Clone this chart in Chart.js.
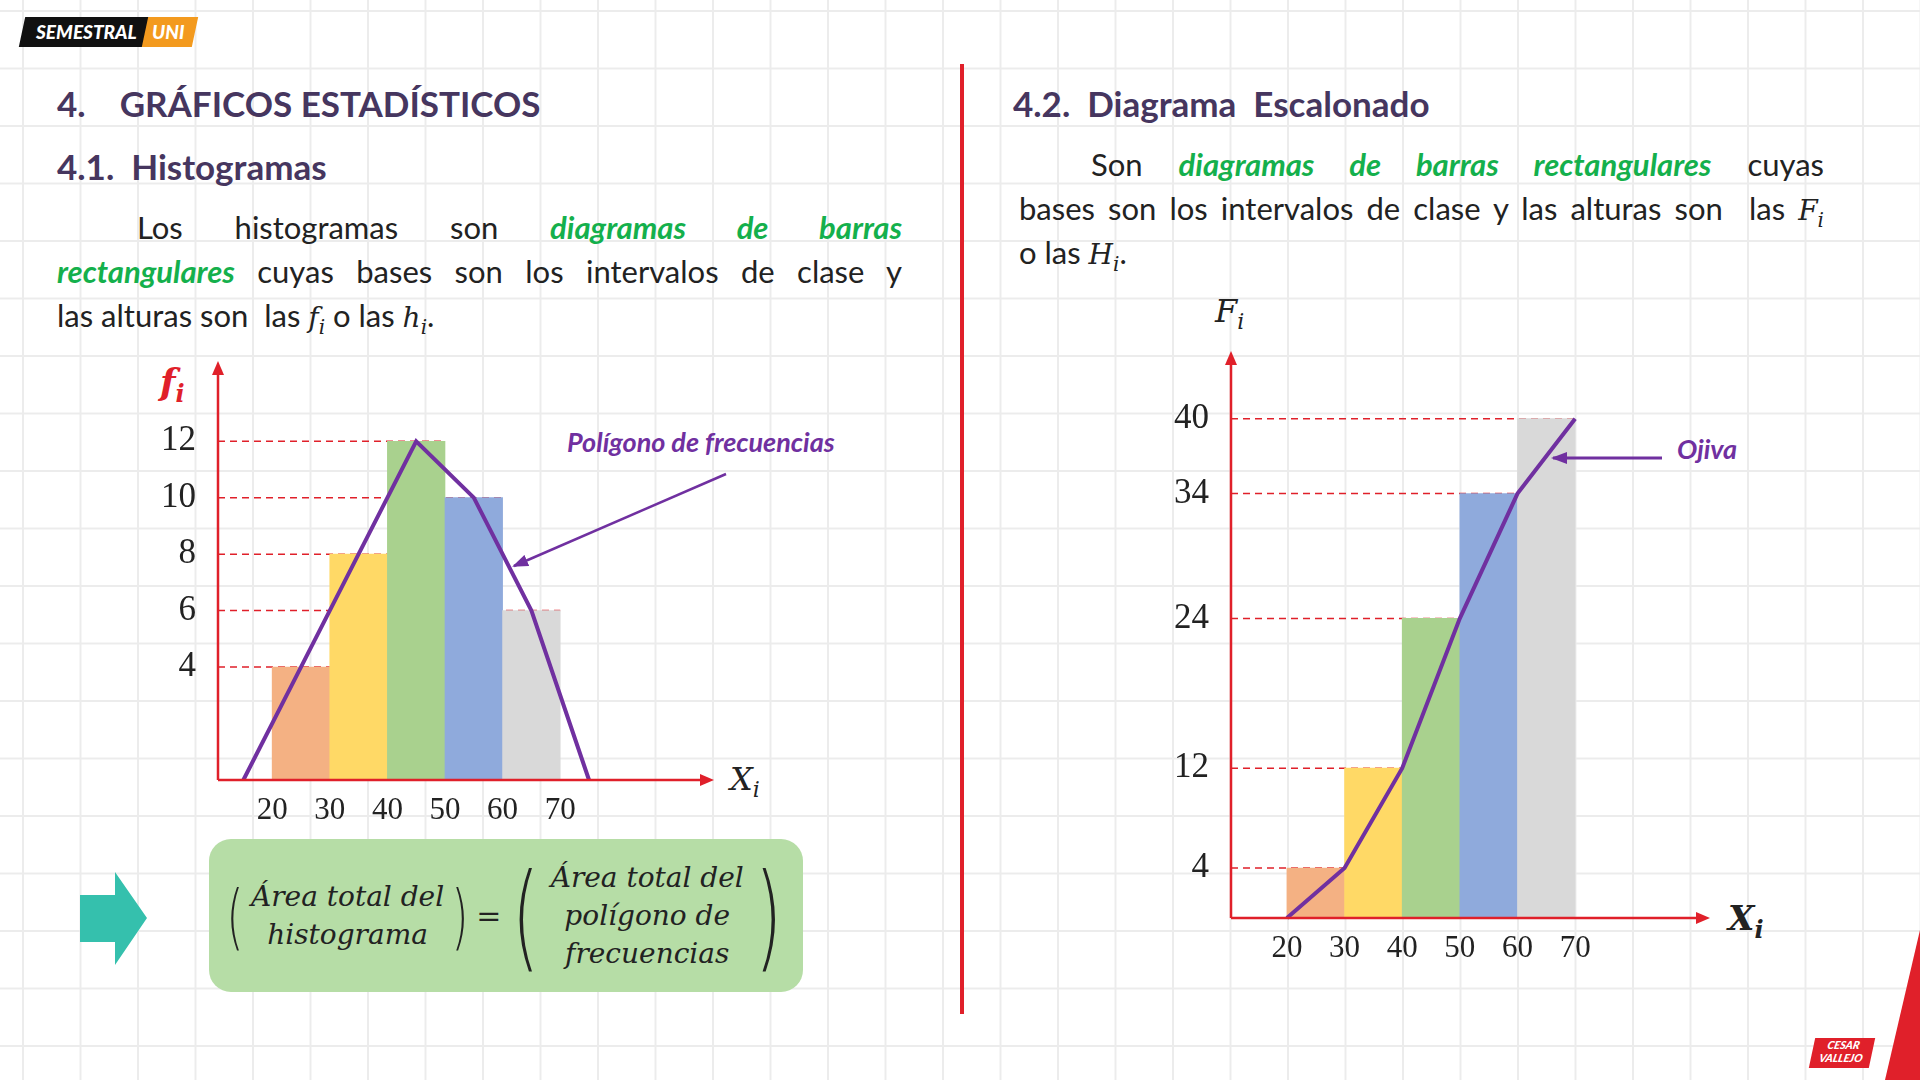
<!DOCTYPE html>
<html><head><meta charset="utf-8">
<script src="https://cdn.jsdelivr.net/npm/chart.js@4.4.0/dist/chart.umd.min.js"></script>
<style>
html,body{margin:0;padding:0;}
body{width:1920px;height:1080px;position:relative;overflow:hidden;background-color:#fff;
background-image:linear-gradient(#ececec 2px,transparent 2px),linear-gradient(90deg,#ececec 2px,transparent 2px);
background-size:57.5px 57.5px;background-position:22px 10px;font-family:Lato,"Open Sans",sans-serif;}
.abs{position:absolute;}
sub{line-height:0;}
h1,h2{margin:0;color:#46365f;font-weight:bold;font-family:Lato,sans-serif;position:absolute;}
.p{font-size:31px;color:#222;line-height:44px;position:absolute;}
.p div{text-align:justify;text-align-last:justify;white-space:nowrap;height:44px;}
.p div.last{text-align-last:left;}
.g{color:#14b04c;font-style:italic;font-weight:bold;}
.m{font-family:"DejaVu Serif",serif;font-style:italic;font-size:28px;}
.ann{color:#7030a0;font-style:italic;font-weight:bold;font-size:27px;position:absolute;}
.f{font-family:"DejaVu Serif",serif;font-style:italic;font-size:28px;color:#222;text-align:center;line-height:38px;}
.par{font-family:"DejaVu Sans",sans-serif;font-weight:100;color:#222;transform:scaleX(0.6);display:inline-block;}
</style></head><body>
<div class="abs" style="left:22px;top:17px;width:150px;height:30px;background:#111;transform:skewX(-12deg);"></div>
<div class="abs" style="left:145px;top:17px;width:50px;height:30px;background:#f39a1e;transform:skewX(-12deg);"></div>
<div class="abs" style="left:36px;top:20px;color:#fff;font-weight:900;font-style:italic;font-size:19px;">SEMESTRAL</div>
<div class="abs" style="left:152px;top:20px;color:#fff;font-weight:900;font-style:italic;font-size:19px;">UNI</div>

<h1 style="left:57px;top:82px;font-size:35px;">4.&nbsp;&nbsp;&nbsp;&nbsp;GRÁFICOS ESTADÍSTICOS</h1>
<h2 style="left:57px;top:145px;font-size:35px;">4.1.&nbsp; Histogramas</h2>
<div class="p" style="left:57px;top:205px;width:845px;">
<div><span style="display:inline-block;width:80px"></span>Los histogramas son <span class="g">diagramas de barras</span></div>
<div><span class="g">rectangulares</span> cuyas bases son los intervalos de clase y</div>
<div class="last">las alturas son&nbsp; las <span class="m">f<sub style="font-size:20px">i</sub></span> o las <span class="m">h<sub style="font-size:20px">i</sub></span>.</div>
</div>

<div class="abs" style="left:960px;top:64px;width:4px;height:950px;background:#e0202a;"></div>

<h2 style="left:1013px;top:82px;font-size:35px;">4.2.&nbsp; Diagrama&nbsp; Escalonado</h2>
<div class="p" style="left:1019px;top:142px;width:805px;">
<div><span style="display:inline-block;width:72px"></span>Son <span class="g">diagramas de barras rectangulares</span> cuyas</div>
<div>bases son los intervalos de clase y las alturas son&nbsp; las <span class="m">F<sub style="font-size:20px">i</sub></span></div>
<div class="last">o las <span class="m">H<sub style="font-size:20px">i</sub></span>.</div>
</div>

<div class="abs" style="left:160px;top:360px;color:#e0202a;font-family:'DejaVu Serif',serif;font-style:italic;font-weight:bold;font-size:36px;">f<sub style="font-size:24px">i</sub></div>
<div class="abs" style="left:730px;top:760px;color:#222;font-family:'DejaVu Serif',serif;font-style:italic;font-size:32px;">X<sub style="font-size:22px">i</sub></div>
<div class="abs" style="left:1215px;top:292px;color:#222;font-family:'DejaVu Serif',serif;font-style:italic;font-size:32px;">F<sub style="font-size:22px">i</sub></div>
<div class="abs" style="left:1728px;top:898px;color:#222;font-family:'DejaVu Serif',serif;font-style:italic;font-weight:bold;font-size:34px;">X<sub style="font-size:24px">i</sub></div>

<div class="ann" style="left:567px;top:425px;">Polígono de frecuencias</div>
<div class="ann" style="left:1677px;top:432px;">Ojiva</div>
<div class="abs" style="left:1812px;top:1038px;width:60px;height:30px;background:#e0202a;transform:skewX(-12deg);color:#fff;font-size:11px;font-weight:900;font-style:italic;line-height:13px;text-align:center;">CESAR<br>VALLEJO</div>

<div class="abs" style="left:209px;top:839px;width:594px;height:153px;background:#b6dda6;border-radius:22px;display:flex;align-items:center;justify-content:center;gap:2px;">
 <span class="par" style="font-size:72px;">(</span><div class="f">Área total del<br>histograma</div><span class="par" style="font-size:72px;">)</span>
 <span class="f" style="font-style:normal;font-size:30px;">=</span>
 <span class="par" style="font-size:116px;">(</span><div class="f">Área total del<br>polígono de<br>frecuencias</div><span class="par" style="font-size:116px;">)</span>
</div>

<div class="abs" style="left:158px;top:330px;width:562px;height:490px;"><canvas id="c1"></canvas></div>
<div class="abs" style="left:1171px;top:320px;width:545px;height:638px;"><canvas id="c2"></canvas></div>

<svg class="abs" style="left:0;top:0;z-index:5" width="1920" height="1080">
<defs><marker id="ah" markerUnits="userSpaceOnUse" markerWidth="16" markerHeight="12" refX="14" refY="6" orient="auto"><path d="M0,0 L16,6 L0,12 z" fill="#7030a0"/></marker></defs>
<line x1="726" y1="474" x2="514" y2="566" stroke="#7030a0" stroke-width="2.5" marker-end="url(#ah)"/>
<line x1="1662" y1="458" x2="1553" y2="458" stroke="#7030a0" stroke-width="3" marker-end="url(#ah)"/>
<path d="M80,895 L115,895 L115,872 L147,918 L115,965 L115,942 L80,942 z" fill="#35c0ad"/>
<path d="M1920,930 L1920,1080 L1885,1080 z" fill="#e0202a"/>
</svg>

<script>
const classMarks=[25,35,45,55,65];
const fi=[4,8,12,10,6];
const Fi=[4,12,24,34,40];
const polyX=[15,25,35,45,55,65,75];
const polyY=[0,4,8,12,10,6,0];
const ojivaX=[20,30,40,50,60,70];
const ojivaY=[0,4,12,24,34,40];
const xTicks=[20,30,40,50,60,70];
const fiTicks=[4,6,8,10,12];
const FiTicks=[4,12,24,34,40];
const colors=['#f4b183','#ffd966','#a9d18e','#8faadc','#d9d9d9'];

const guides={id:'guides',
 beforeDatasetsDraw(ch){const {ctx}=ch;const x=ch.scales.x,y=ch.scales.y;
  ctx.save();ctx.strokeStyle='#e0202a';ctx.lineWidth=1.5;ctx.setLineDash([7,5]);
  ch.data.datasets[0].data.forEach(p=>{const yy=y.getPixelForValue(p.y);ctx.beginPath();ctx.moveTo(x.left,yy);ctx.lineTo(x.getPixelForValue(p.x+5),yy);ctx.stroke();});
  ctx.restore();},
 afterDraw(ch){const {ctx}=ch;const a=ch.chartArea;ctx.save();ctx.strokeStyle='#e0202a';ctx.fillStyle='#e0202a';ctx.lineWidth=2.5;
  ctx.beginPath();ctx.moveTo(a.left,a.bottom);ctx.lineTo(a.left,a.top+4);ctx.moveTo(a.left,a.bottom);ctx.lineTo(a.right-4,a.bottom);ctx.stroke();
  ctx.beginPath();ctx.moveTo(a.left,a.top-4);ctx.lineTo(a.left-6,a.top+10);ctx.lineTo(a.left+6,a.top+10);ctx.fill();
  ctx.beginPath();ctx.moveTo(a.right+4,a.bottom);ctx.lineTo(a.right-10,a.bottom-6);ctx.lineTo(a.right-10,a.bottom+6);ctx.fill();
  ctx.restore();}};

function make(id,vals,ticks,xmin,xmax,ymax,lx,ly){
 return new Chart(document.getElementById(id),{
  data:{datasets:[
   {type:'bar',data:classMarks.map((x,i)=>({x,y:vals[i]})),backgroundColor:colors,barPercentage:1,categoryPercentage:1,borderWidth:0,order:2},
   {type:'line',data:lx.map((x,i)=>({x,y:ly[i]})),borderColor:'#7030a0',borderWidth:4,pointRadius:0,tension:0,order:1,clip:false}
  ]},
  options:{responsive:true,maintainAspectRatio:false,animation:false,
   layout:{padding:{top:10,right:10}},
   plugins:{legend:{display:false},tooltip:{enabled:false}},
   scales:{
    x:{type:'linear',offset:false,min:xmin,max:xmax,grid:{display:false,offset:false},border:{display:false},
     afterBuildTicks(s){s.ticks=xTicks.map(v=>({value:v}));},afterFit(s){s.height=40;},
     ticks:{color:'#222',font:{family:'Liberation Serif',size:31},padding:4}},
    y:{min:0,max:ymax,grid:{display:false},border:{display:false},
     afterBuildTicks(s){s.ticks=ticks.map(v=>({value:v}));},afterFit(s){s.width=60;},
     ticks:{color:'#222',font:{family:'Liberation Serif',size:35},padding:14}}
   }},
  plugins:[guides]});
}
make('c1',fi,fiTicks,10.6,96,14.7,polyX,polyY);
make('c2',Fi,FiTicks,10.3,92.7,45.1,ojivaX,ojivaY);
</script>
</body></html>
